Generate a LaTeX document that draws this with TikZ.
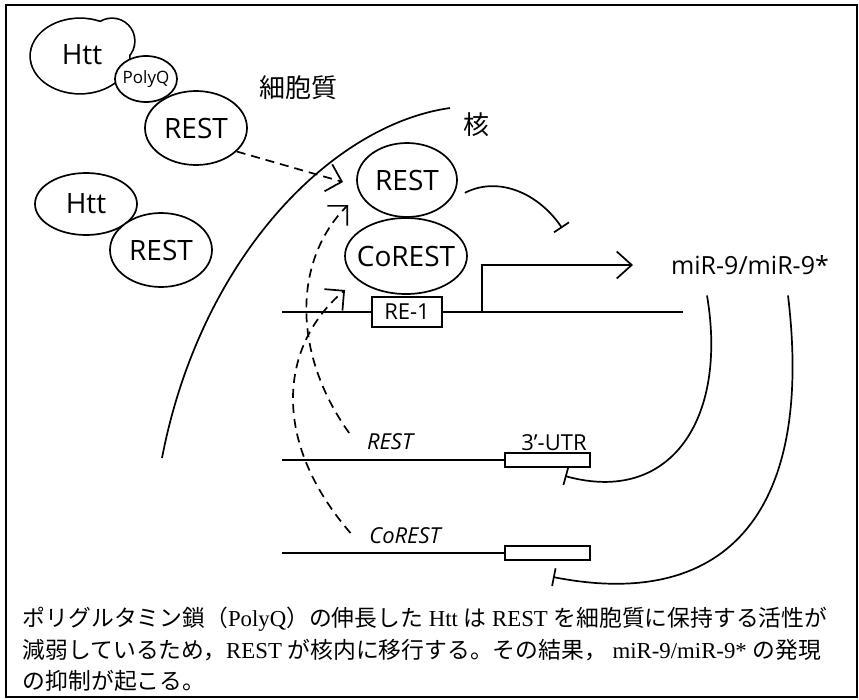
\documentclass[tikz,border=0pt]{standalone}
\usepackage{fontspec}
\setmainfont{Liberation Serif}
\newfontfamily\lsans{Open Sans}
\newfontfamily\cjk{Noto Sans CJK JP}
\usetikzlibrary{shapes.geometric,arrows.meta,calc}
\begin{document}
\begin{tikzpicture}[x=1pt,y=-1pt,
  line width=1.7pt,
  oval/.style={ellipse, draw, fill=white, inner sep=0pt, font=\lsans\fontsize{28}{30}\selectfont},
  lbl/.style={font=\lsans\fontsize{22}{24}\selectfont, inner sep=0pt},
  ilbl/.style={font=\lsans\itshape\fontsize{22}{24}\selectfont, inner sep=0pt},
  dsh/.style={dash pattern=on 9pt off 6pt},
  barb/.style={-{Straight Barb[length=14pt,width=28pt]}},
  tee/.style={-{Bar[width=18pt]}},
  utrbox/.style={draw, rectangle, minimum width=85pt, minimum height=14pt, inner sep=0pt},
  cjklbl/.style={font=\cjk\fontsize{26}{28}\selectfont, inner sep=0pt},
  captxt/.style={anchor=west, inner sep=0pt, font=\fontsize{22.8}{24}\selectfont}
]
\useasboundingbox (0,0) rectangle (859,699);
\draw[line width=1.4pt] (6,5) rectangle (857,697);

% Htt blob (top)
\draw[line width=3.4pt] (80,56) ellipse [x radius=49pt, y radius=37pt];
\draw[line width=3.4pt] (112,41) circle [radius=22pt];
\fill[white] (80,56) ellipse [x radius=49pt, y radius=37pt];
\fill[white] (112,41) circle [radius=22pt];
\node[font=\lsans\fontsize{28}{30}\selectfont, inner sep=0pt] (htt1) at (82,55) {Htt};
\node[oval, minimum width=62pt, minimum height=46pt, font=\lsans\fontsize{17}{19}\selectfont] (polyq) at (146,79) {\makebox[0pt]{PolyQ}};
\node[oval, minimum width=102pt, minimum height=74pt] (restA) at (196,128) {\makebox[0pt]{REST}};

% Htt / REST (second)
\node[oval, minimum width=102pt, minimum height=62pt] (htt2) at (86,204) {\makebox[0pt]{Htt}};
\node[oval, minimum width=102pt, minimum height=74pt] (restB) at (161,250) {\makebox[0pt]{REST}};

% labels
\node[cjklbl] (cyto) at (298,88) {細胞質};
\node[cjklbl] (nuc) at (476,125) {核};

% nucleus membrane
\draw (450,108) .. controls (330,125) and (200,260) .. (162,458);

% nuclear proteins
\node[oval, minimum width=100pt, minimum height=74pt] (restN) at (407,180) {\makebox[0pt]{REST}};
\node[oval, minimum width=122pt, minimum height=76pt] (corest) at (406,256) {\makebox[0pt]{CoREST}};
\node[draw, rectangle, minimum width=70pt, minimum height=30pt, inner sep=0pt, font=\lsans\fontsize{22}{24}\selectfont] (re1) at (407,312) {RE-1};

% DNA
\coordinate (dnaL) at (282,312);
\coordinate (dnaR) at (683,312);
\coordinate (prom) at (482,312);
\coordinate (tss) at (633,265);
\draw (dnaL) -- (re1.west);
\draw (re1.east) -- (dnaR);
\draw[-{Straight Barb[length=15pt,width=27pt]}] (prom) |- (tss);

\node[font=\lsans\fontsize{25}{27}\selectfont, inner sep=0pt] (mir) at (750,265) {miR-9/miR-9*};

% REST inhibition
\draw[tee] ([xshift=10pt]restN.-15) .. controls (500,175) and (540,195) .. (562,228);

% genes
\node[ilbl] (restG) at (390,442) {REST};
\node[utrbox] (utr1) at (547.5,460) {};
\node[lbl] (utrlbl) at (554,443) {3’-UTR};
\coordinate (rL) at (282,460);
\draw (rL) -- (utr1.west);

\node[ilbl] (corG) at (405,536) {CoREST};
\node[utrbox] (utr2) at (547.5,553) {};
\coordinate (cL) at (282,553);
\draw (cL) -- (utr2.west);

% miRNA inhibition
\draw[tee] ($(mir.south)+(-43,20)$) .. controls (728,420) and (670,505) .. (565,476);
\draw[tee] ($(mir.south)+(38,20)$) .. controls (815,520) and (720,610) .. (553,577);

% dashed arrows
\coordinate (tipA) at (343,182);
\coordinate (tipB) at (348,205);
\coordinate (tipC) at (345,290);
\draw[dsh, barb] (restA.-30) -- (tipA);
\draw[dsh, barb] ($(restG.west)+(-17,-9)$) .. controls (290,350) and (295,258) .. (tipB);
\draw[dsh, barb] ($(corG.west)+(-18,-3)$) .. controls (270,440) and (280,345) .. (tipC);

% caption
\node[captxt] (cap1) at (22,619) {{\cjk ポリグルタミン鎖（}PolyQ{\cjk ）の伸長した} Htt {\cjk は} REST {\cjk を細胞質に保持する活性が}};
\node[captxt] (cap2) at (22,650) {{\cjk 減弱しているため，}REST {\cjk が核内に移行する。その結果，} miR-9/miR-9* {\cjk の発現}};
\node[captxt] (cap3) at (22,681) {{\cjk の抑制が起こる。}};
\end{tikzpicture}
\end{document}
